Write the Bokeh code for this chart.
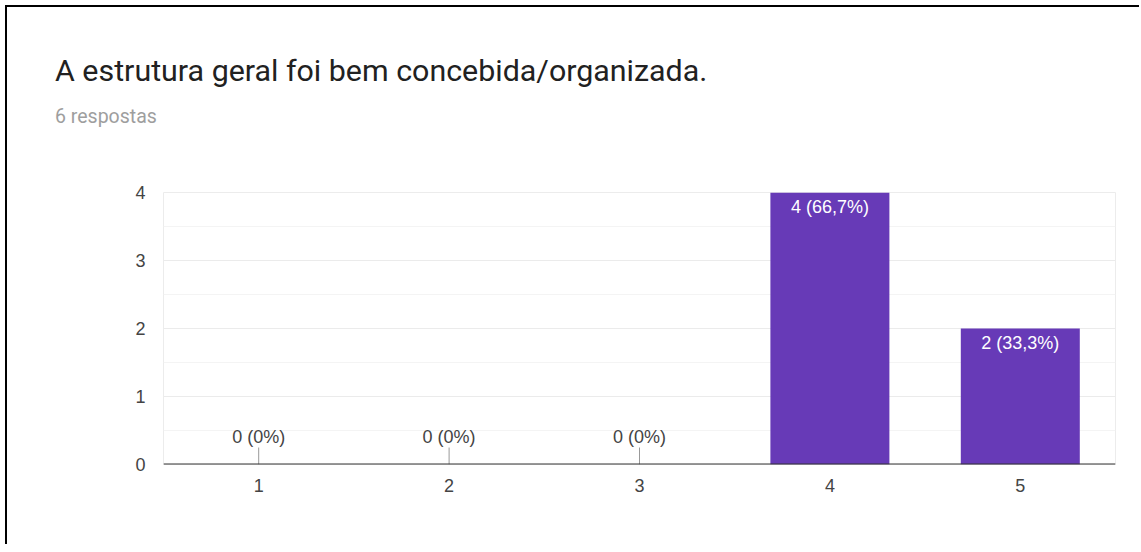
from bokeh.plotting import figure
from bokeh.layouts import column
from bokeh.models import ColumnDataSource, FactorRange, Range1d, FixedTicker, Span, Div
from bokeh.core.properties import value
from bokeh.embed import file_html
from bokeh.resources import INLINE

title_text = "A estrutura geral foi bem concebida/organizada."
subtitle_text = "6 respostas"
categories = ["1", "2", "3", "4", "5"]
counts = [0, 0, 0, 4, 2]
total = sum(counts)

def pct(c):
    if c == 0:
        return "0%"
    s = f"{100 * c / total:.1f}".replace(".", ",")
    return s + "%"

labels = [f"{c} ({pct(c)})" for c in counts]

W = 1134
HH = 150          # header height
HM = 389          # main chart height

# ---------- header (title + subtitle) ----------
html = (
    f'<div style="position:relative;width:{W}px;height:{HH}px;margin:0;padding:0;background:white">'
    f'<div style="position:absolute;left:48px;top:49px;font-family:Roboto;font-size:30.4px;'
    f'line-height:1;color:#212121;white-space:nowrap">{title_text}</div>'
    f'<div style="position:absolute;left:48px;top:100px;font-family:Roboto;font-size:19.5px;'
    f'line-height:1;color:#9e9e9e;white-space:nowrap">{subtitle_text}</div>'
    f'</div>'
)
hdr = Div(text=html, width=W, height=HH, margin=0,
          styles={"border-left": "2px solid black", "border-top": "2px solid black",
                  "margin-left": "5px", "margin-top": "5px", "background": "white"})

# ---------- main chart ----------
p = figure(width=W, height=HM, x_range=FactorRange(*categories), y_range=Range1d(0, 4),
           output_backend="svg", toolbar_location=None,
           min_border_left=156, min_border_right=26, min_border_top=37, min_border_bottom=80)
p.styles = {"border-left": "2px solid black", "margin-left": "5px"}
p.background_fill_color = "white"
p.border_fill_color = "white"
p.outline_line_color = "#ececec"
p.outline_line_width = 1

p.xgrid.grid_line_color = None
p.ygrid.grid_line_color = "#ebebeb"
p.ygrid.minor_grid_line_color = "#f4f4f4"
p.yaxis.ticker = FixedTicker(ticks=[0, 1, 2, 3, 4], minor_ticks=[0.5, 1.5, 2.5, 3.5])

for ax in (p.xaxis, p.yaxis):
    ax.axis_line_color = None
    ax.major_tick_line_color = None
    ax.minor_tick_line_color = None
    ax.major_tick_out = 0
    ax.minor_tick_out = 0
    ax.major_label_text_font = "Liberation Sans"
    ax.major_label_text_font_size = "18px"
    ax.major_label_text_color = "#444444"
p.yaxis.major_label_standoff = 18
p.xaxis.major_label_standoff = 14

src = ColumnDataSource(dict(cat=categories, count=counts, label=labels))
p.vbar(x="cat", top="count", width=0.625, source=src, fill_color="#673ab7", line_color=None)

p.add_layout(Span(location=0, dimension="width", line_color="#333333", line_width=2))

nz = [i for i, c in enumerate(counts) if c > 0]
z = [i for i, c in enumerate(counts) if c == 0]
src_nz = ColumnDataSource(dict(cat=[categories[i] for i in nz], count=[counts[i] for i in nz], label=[labels[i] for i in nz]))
src_z = ColumnDataSource(dict(cat=[categories[i] for i in z], count=[counts[i] for i in z], label=[labels[i] for i in z]))
p.text(x="cat", y="count", text="label", source=src_nz, text_align="center", text_baseline="top",
       y_offset=4, text_color="white", text_font=value("Liberation Sans"), text_font_size="18px")
p.text(x="cat", y="count", text="label", source=src_z, text_align="center", text_baseline="bottom",
       y_offset=-18, text_color="#444444", text_font=value("Liberation Sans"), text_font_size="18px")
p.segment(x0="cat", y0="count", x1="cat", y1=0.25, source=src_z, line_color="#999999", line_width=1)

layout = column(hdr, p, spacing=0)
open("out.html", "w").write(file_html(layout, INLINE))
